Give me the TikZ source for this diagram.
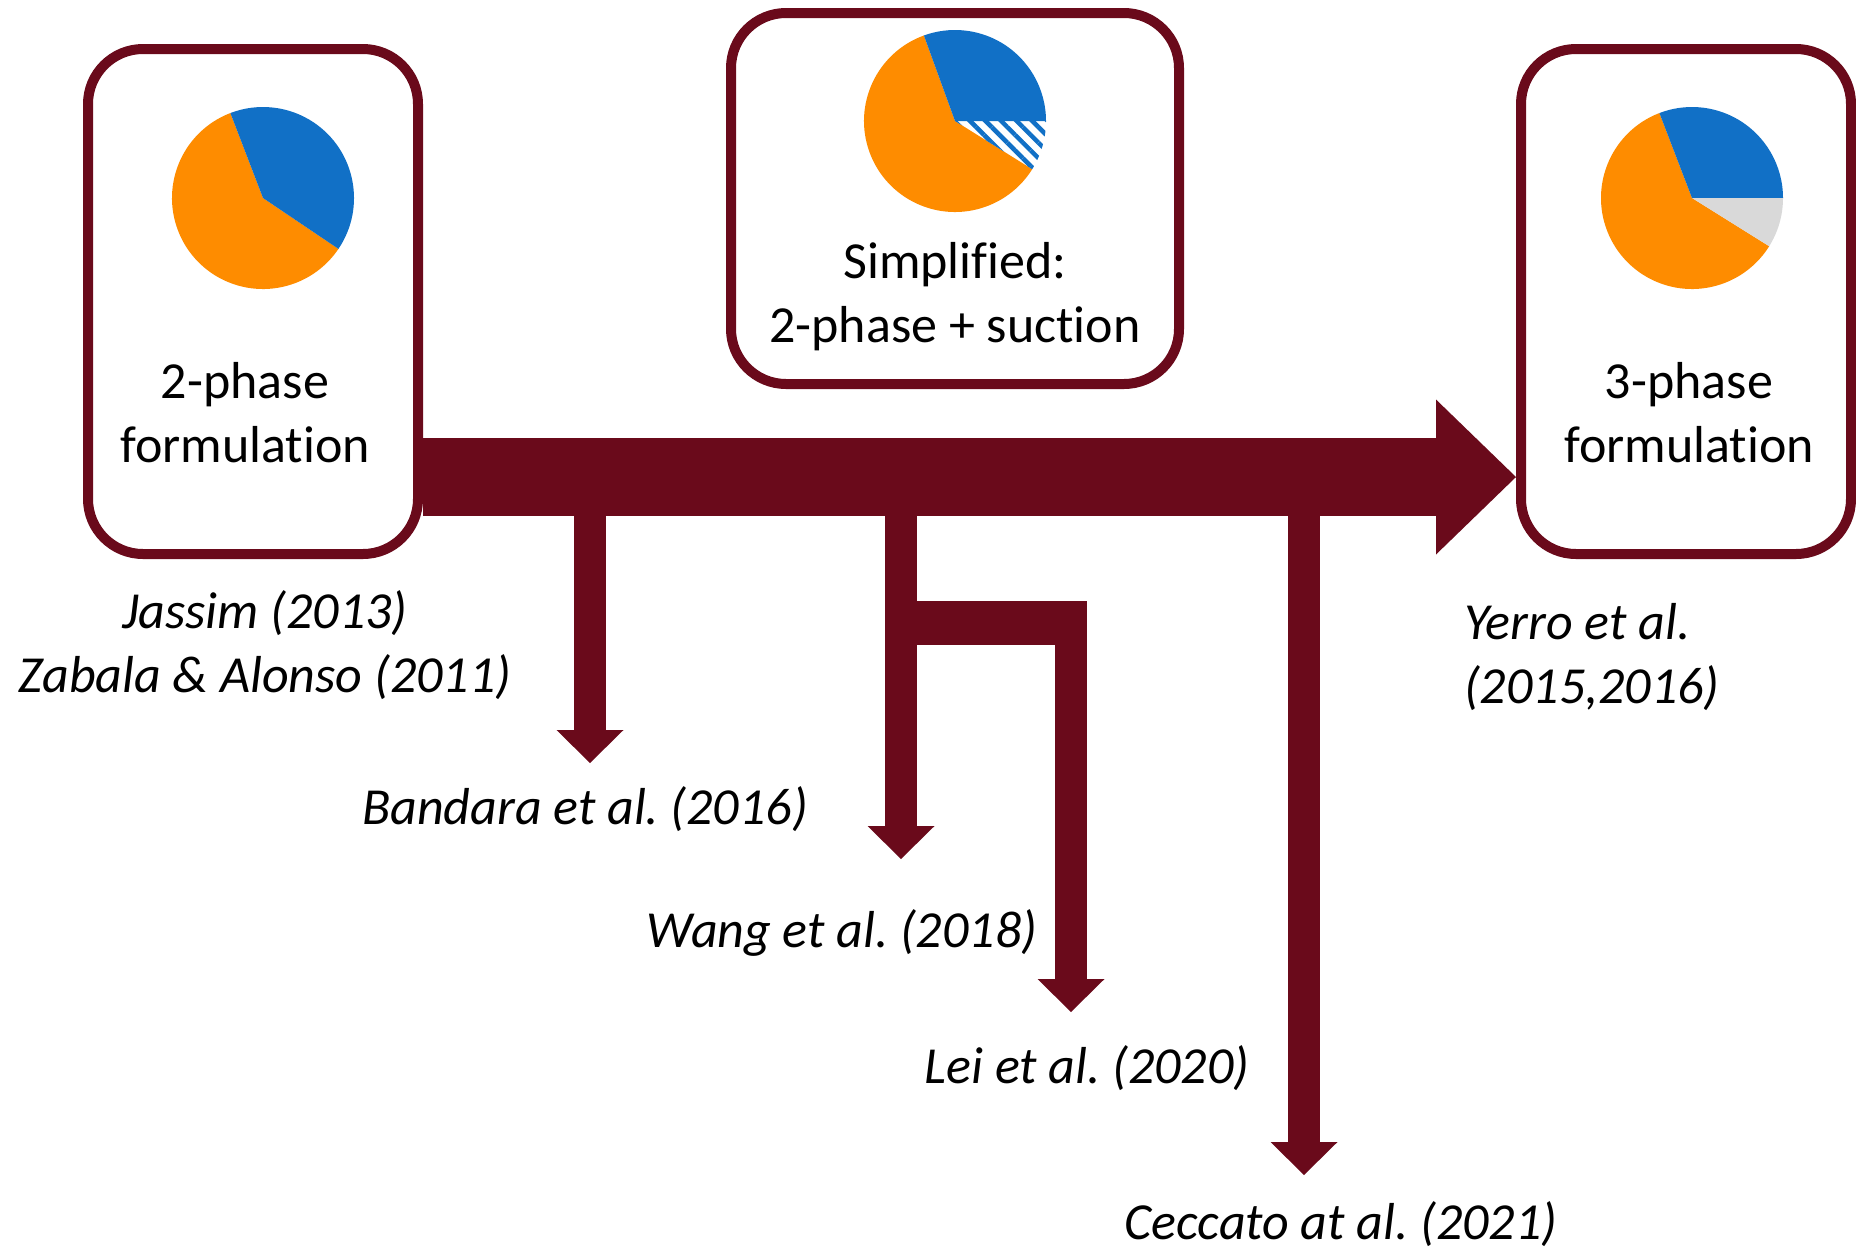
\documentclass[tikz,border=0pt]{standalone}
\usepackage{fontspec}
\setmainfont{Carlito}[Ligatures=NoCommon]
\usepackage{xcolor}
\usepackage{tikz}
\usetikzlibrary{arrows.meta, positioning, patterns.meta}
\frenchspacing

\definecolor{bordeaux}{HTML}{6A0A1B}
\definecolor{taartblauw}{HTML}{1170C6}
\definecolor{taartoranje}{HTML}{FE8C00}
\definecolor{taartgrijs}{HTML}{D9D9D9}

\begin{document}
\begin{tikzpicture}[x=1pt, y=1pt]
        % Stijlen voor kaders, teksten en pijlen
        \tikzstyle{fase} = [rectangle, rounded corners=55pt, draw=bordeaux, line width=10pt, fill=white]
        \tikzstyle{tekst} = [align=center, inner sep=0pt, font=\fontsize{52}{64}\selectfont]
        \tikzstyle{bron} = [align=center, inner sep=0pt, font=\fontsize{52}{64}\selectfont\itshape]
        \tikzstyle{hoofdpijl} = [draw=bordeaux, line width=78pt, -{Triangle[length=80pt, width=155pt, line width=0pt]}]
        \tikzstyle{tak} = [draw=bordeaux, line width=32pt, -{Triangle[length=33pt, width=67pt, line width=0pt]}]

        \useasboundingbox (0,0) rectangle (1856,-1251);

        % Kaders
        \node (twee) [fase, minimum width=330pt, minimum height=505pt] at (253,-301.5) {};
        \node (vereenv) [fase, minimum width=448pt, minimum height=371pt] at (955,-198.5) {};
        \node (drie) [fase, minimum width=330pt, minimum height=505pt] at (1686,-301.5) {};

        % Taartdiagrammen
        \fill[taartoranje] (263,-198) -- +(111:91pt) arc[start angle=111, end angle=326, radius=91pt] -- cycle;
        \fill[taartblauw] (263,-198) -- +(-34:91pt) arc[start angle=-34, end angle=111, radius=91pt] -- cycle;

        \fill[taartoranje] (955,-121) -- +(110:91pt) arc[start angle=110, end angle=328, radius=91pt] -- cycle;
        \fill[taartblauw] (955,-121) -- +(0:91pt) arc[start angle=0, end angle=110, radius=91pt] -- cycle;
        \fill[pattern={Lines[angle=-45, distance=11pt, line width=4.5pt]}, pattern color=taartblauw] (955,-121) -- +(-32:91pt) arc[start angle=-32, end angle=0, radius=91pt] -- cycle;

        \fill[taartoranje] (1692,-198) -- +(111:91pt) arc[start angle=111, end angle=328, radius=91pt] -- cycle;
        \fill[taartblauw] (1692,-198) -- +(0:91pt) arc[start angle=0, end angle=111, radius=91pt] -- cycle;
        \fill[taartgrijs] (1692,-198) -- +(-32:91pt) arc[start angle=-32, end angle=0, radius=91pt] -- cycle;

        % Teksten
        \node (tweetekst) [tekst] at (245,-413) {2-phase\\formulation};
        \node (vereentekst) [tekst] at (955,-297) {Simplified:\\2-phase + suction};
        \node (drietekst) [tekst] at (1689,-413) {3-phase\\formulation};

        \node (jassim) [bron] at (265,-645) {Jassim (2013)\\Zabala \& Alonso (2011)};
        \node (bandara) [bron, anchor=base] at (585,-824) {Bandara et al. (2016)};
        \node (wang) [bron, anchor=base] at (842,-947) {Wang et al. (2018)};
        \node (lei) [bron, anchor=base] at (1087,-1083) {Lei et al. (2020)};
        \node (ceccato) [bron, anchor=base] at (1341,-1239) {Ceccato at al. (2021)};
        \node (yerro) [bron, align=left, anchor=west] at (1464,-657) {Yerro et al.\\(2015,2016)};

        % Pijlen
        \coordinate (as) at (0,-477);
        \draw[hoofdpijl] (twee.east |- as) -- (drie.west |- as);

        \coordinate (bandarapunt) at (590,-477);
        \coordinate (bandarapijl) at (590,-763);
        \draw[tak] (bandarapunt) -- (bandarapijl);

        \coordinate (wangpunt) at (901,-477);
        \coordinate (wangpijl) at (901,-859);
        \draw[tak] (wangpunt) -- (wangpijl);

        \coordinate (leihoek) at (1071,-623);
        \coordinate (leipijl) at (1071,-1012);
        \draw[bordeaux, line width=44pt] (wangpunt |- leihoek) -- ([xshift=16pt]leihoek);
        \draw[tak] ([yshift=22pt]leihoek) -- (leipijl);

        \coordinate (ceccatopunt) at (1304,-477);
        \coordinate (ceccatopijl) at (1304,-1175);
        \draw[tak] (ceccatopunt) -- (ceccatopijl);
\end{tikzpicture}
\end{document}
